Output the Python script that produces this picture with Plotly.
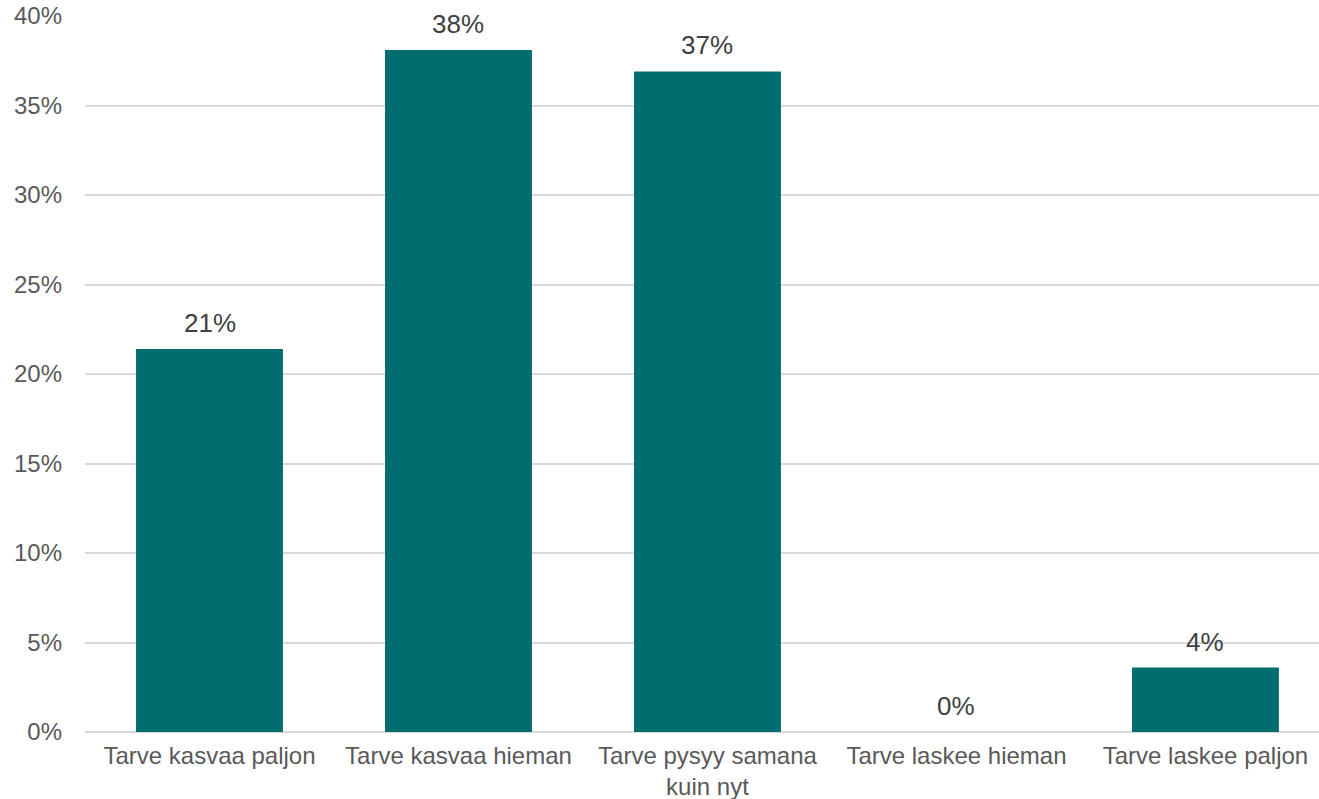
import plotly.graph_objects as go

categories = ["Tarve kasvaa paljon", "Tarve kasvaa hieman", "Tarve pysyy samana<br>kuin nyt",
              "Tarve laskee hieman", "Tarve laskee paljon"]
values = [21.4, 38.1, 36.9, 0.0, 3.6]
labels = ["21%", "38%", "37%", "0%", "4%"]
yticks = [0, 5, 10, 15, 20, 25, 30, 35, 40]

FONT = "Liberation Sans, Arial, sans-serif"

fig = go.Figure()
fig.add_trace(go.Bar(
    x=categories, y=values,
    marker=dict(color="#006E6E", line=dict(width=0)),
    hoverinfo="skip",
))

for c, v, t in zip(categories, values, labels):
    fig.add_annotation(x=c, y=v, text=t, showarrow=False, yanchor="bottom",
                       yshift=9, font=dict(family=FONT, size=26, color="#404040"))

fig.update_layout(
    width=1319, height=799,
    margin=dict(l=85, r=0, t=16, b=67, autoexpand=False),
    plot_bgcolor="white", paper_bgcolor="white",
    bargap=0.41,
    showlegend=False,
    font=dict(family=FONT, size=24, color="#595959"),
)
fig.update_xaxes(range=[-0.5, 4.456], showgrid=False, showline=False, zeroline=False,
                 ticklabelstandoff=7, automargin=False,
                 tickfont=dict(family=FONT, size=24, color="#595959"), ticks="")
fig.update_yaxes(range=[0, 40], tickvals=yticks, ticktext=[f"{v}%" for v in yticks],
                 showgrid=True, gridcolor="#D9D9D9", gridwidth=1.5,
                 zeroline=True, zerolinecolor="#D9D9D9", zerolinewidth=1.5,
                 showline=False, ticks="", ticklabelstandoff=22, automargin=False,
                 tickfont=dict(family=FONT, size=24, color="#595959"))

fig.write_html("out.html", config={"displayModeBar": False},
               post_script="document.body.style.margin='0';document.body.style.overflow='hidden';")
